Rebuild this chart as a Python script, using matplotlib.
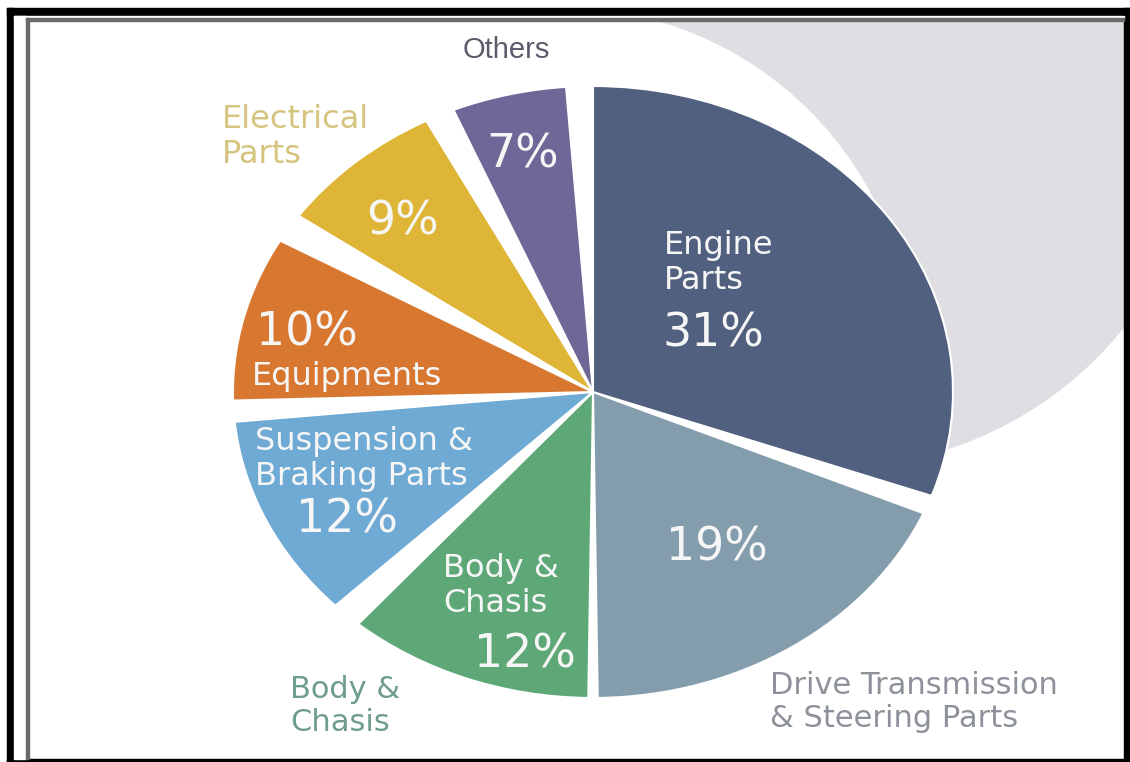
import matplotlib
matplotlib.use("Agg")
import matplotlib.pyplot as plt
from matplotlib.patches import Circle, Rectangle

# ---- data ----
categories = ["Engine\nParts", "Drive Transmission\n& Steering Parts", "Body &\nChasis",
              "Suspension &\nBraking Parts", "Equipments", "Electrical\nParts", "Others"]
shares = [31, 19, 12, 12, 10, 9, 7]
pct_labels = ["31%", "19%", "12%", "12%", "10%", "9%", "7%"]
colors = ["#50607e", "#849dad", "#5ea878", "#6eaad3", "#d8772f", "#deb537", "#6e6797"]

# ---- layout (pixels) ----
W, H = 1130, 762
CX, CY = 593, 392          # pie centre in pixels (from top)
SX, SY = 360, 306          # pixels per unit radius (image is stretched horizontally)
shrink_start = [0.0, 1.75, 0.75, 2.5, 2.0, 2.75, 2.4]   # degrees trimmed at ccw edge
shrink_end = [1.75, 0.75, 2.5, 2.0, 2.75, 2.4, 4.3]     # degrees trimmed at cw edge

fig = plt.figure(figsize=(W / 100, H / 100), dpi=100)
bg = fig.add_axes([0, 0, 1, 1])
bg.set_xlim(0, W)
bg.set_ylim(H, 0)
bg.axis("off")
bg.add_patch(Rectangle((0, 0), W, H, color="white"))
bg.add_patch(Circle((832, 93), 374, color="#dfdfe3"))
bg.add_patch(Circle((560, 360), 352, color="white"))

ax = fig.add_axes([0, 0, 1, 1])
ax.patch.set_alpha(0)
wedges, _ = ax.pie(shares, colors=colors, startangle=90, counterclock=False,
                   wedgeprops=dict(edgecolor="white", linewidth=1.5))
for i, w in enumerate(wedges):
    t1 = w.theta1 + shrink_end[i]
    t2 = w.theta2 - shrink_start[i]
    w.set_theta1(t1)
    w.set_theta2(t2)
ax.set_aspect("auto")
ax.set_xlim(-CX / SX, (W - CX) / SX)
ax.set_ylim(-(H - CY) / SY, CY / SY)
ax.axis("off")

FONT = "DejaVu Sans"
T = bg.transData
inner = "#f6f6f6"

def txt(x, y, s, size, color, ha="left", family=FONT):
    ax.text(x, y, s, transform=T, fontsize=size, color=color, ha=ha, va="center",
            family=family, linespacing=1.15, zorder=10)

# inside labels
txt(664, 263, categories[0], 23, inner)
txt(662, 334, pct_labels[0], 33, inner)
txt(666, 548, pct_labels[1], 33, inner)
txt(443, 586, categories[2], 23, inner)
txt(474, 655, pct_labels[2], 33, inner)
txt(255, 459, categories[3], 23, inner)
txt(296, 520, pct_labels[3], 33, inner)
txt(256, 333, pct_labels[4], 33, inner)
txt(252, 377, categories[4], 23, inner)
txt(366, 222, pct_labels[5], 33, inner)
txt(486, 155, pct_labels[6], 33, inner)

# outside labels
txt(506, 50, categories[6], 21, "#5a5c6c", ha="center", family="Liberation Sans")
txt(222, 137, categories[5], 23, "#d5c47e")
txt(290, 706, categories[2], 22, "#6f9d8b")
txt(770, 702, categories[1], 22, "#8d9199")

# frame
def rect(x, y, w, h, c):
    ax.add_patch(Rectangle((x, y), w, h, transform=T, color=c, zorder=20, clip_on=False))

rect(0, 0, W, 8, "white")
rect(0, 0, 7, H, "white")
rect(7, 8, W - 7, 8, "black")
rect(7, 8, 7, H - 8, "black")
rect(1124, 8, 6, H - 8, "black")
rect(7, 759, W - 7, 3, "black")
rect(14, 16, W - 20, 2, "white")
rect(14, 16, 12, 743, "white")
rect(26, 18, W - 32, 2.5, "#6a6a6a")
rect(26, 18, 2.5, 741, "#6a6a6a")

fig.savefig("out.png", dpi=100)
